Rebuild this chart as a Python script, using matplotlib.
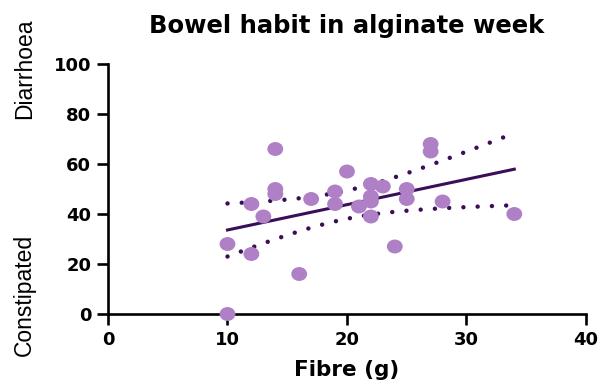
import numpy as np
import matplotlib
matplotlib.use("Agg")
import matplotlib.pyplot as plt
from matplotlib.path import Path

fibre = [10, 10, 12, 12, 13, 14, 14, 14, 16, 17, 19, 19, 20, 21, 22, 22, 22, 22, 23, 24, 25, 25, 27, 27, 28, 34]
score = [28, 0, 44, 24, 39, 66, 50, 48, 16, 46, 49, 44, 57, 43, 52, 47, 45, 39, 51, 27, 50, 46, 68, 65, 45, 40]

x_ticks = [0, 10, 20, 30, 40]
y_ticks = [0, 20, 40, 60, 80, 100]

plt.rcParams['font.family'] = ['DejaVu Sans']

fig = plt.figure(figsize=(6.04, 3.89), dpi=100)
ax = fig.add_axes([0.1788, 0.1928, 0.7914, 0.6427])

x = np.array(fibre, float)
y = np.array(score, float)
n = len(x)
slope, intercept = np.polyfit(x, y, 1)
resid = y - (slope * x + intercept)
s = np.sqrt(np.sum(resid ** 2) / (n - 2))
tval = 2.064
xm = x.mean()
sxx = np.sum((x - xm) ** 2)
xf = np.linspace(x.min(), x.max(), 200)
yf = slope * xf + intercept
se = s * np.sqrt(1 / n + (xf - xm) ** 2 / sxx)

purple = '#B080C6'
dark = '#3A0E58'

# slightly wide elliptical marker
circ = Path.unit_circle()
ell = Path(circ.vertices * np.array([1.0, 0.88]), circ.codes)

ax.plot(xf, yf, color=dark, lw=2.2, zorder=3)
dot = (0, (0.01, 3.2))
ax.plot(xf, yf + tval * se, color=dark, lw=3.2, linestyle=dot,
        dash_capstyle='round', zorder=3)
ax.plot(xf, yf - tval * se, color=dark, lw=3.2, linestyle=dot,
        dash_capstyle='round', zorder=3)

ax.scatter(x, y, s=130, marker=ell, color=purple, edgecolors='none', zorder=4, clip_on=False)

ax.set_xlim(0, 40)
ax.set_ylim(0, 100)
ax.set_xticks(x_ticks)
ax.set_yticks(y_ticks)
for sp in ['top', 'right']:
    ax.spines[sp].set_visible(False)
for sp in ['left', 'bottom']:
    ax.spines[sp].set_linewidth(1.9)
ax.tick_params(axis='both', width=1.9, length=8, labelsize=13, pad=4)
for lab in ax.get_xticklabels() + ax.get_yticklabels():
    lab.set_fontweight('bold')

ax.set_xlabel('Fibre (g)', fontsize=15.5, fontweight='bold', labelpad=8)
ax.set_title('Bowel habit in alginate week', fontsize=17.5, fontweight='bold', pad=22)

fig.text(0.04, 0.2416, 'Constipated', rotation=90, fontsize=16.5, ha='center', va='center',
         family='Liberation Sans')
fig.text(0.04, 0.8226, 'Diarrhoea', rotation=90, fontsize=16.5, ha='center', va='center',
         family='Liberation Sans')

fig.savefig('out.png', dpi=100)
